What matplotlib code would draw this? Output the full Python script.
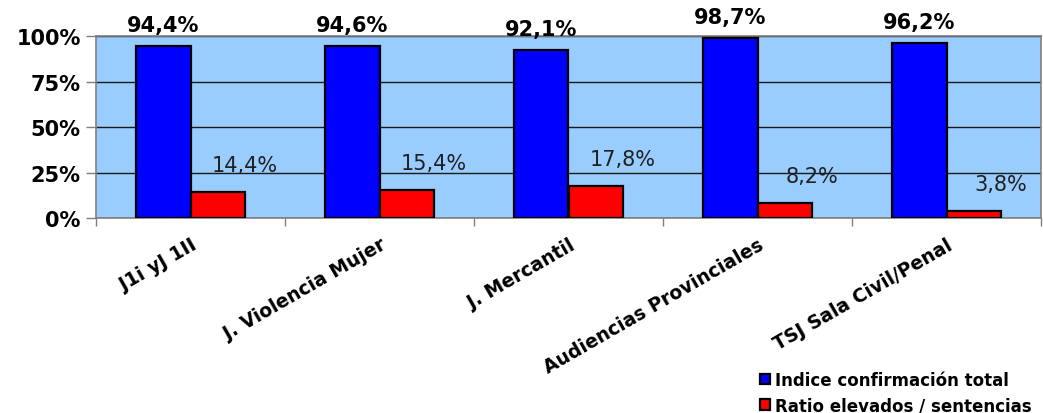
import numpy as np
import matplotlib
matplotlib.use("Agg")
import matplotlib.pyplot as plt
from matplotlib.ticker import FixedLocator, PercentFormatter

categories = ["J1i yJ 1II", "J. Violencia Mujer", "J. Mercantil",
              "Audiencias Provinciales", "TSJ Sala Civil/Penal"]
indice_confirmacion = [94.4, 94.6, 92.1, 98.7, 96.2]
ratio_elevados = [14.4, 15.4, 17.8, 8.2, 3.8]
series_names = ["Indice confirmación total", "Ratio elevados / sentencias"]
y_ticks = [0, 25, 50, 75, 100]

plt.rcParams['font.family'] = ['DejaVu Sans']

fig = plt.figure(figsize=(10.43, 4.14), dpi=100)
ax = fig.add_axes([96/1043, 1-219.3/414, (1041-96)/1043, (219.3-37)/414])
ax.set_facecolor('#99CCFF')

x = np.arange(len(categories))
w = 0.286
b1 = ax.bar(x - w/2, indice_confirmacion, w, color='#0000FF', edgecolor='black',
            linewidth=1.6, label=series_names[0], zorder=3)
b2 = ax.bar(x + w/2, ratio_elevados, w, color='#FF0000', edgecolor='black',
            linewidth=1.6, label=series_names[1], zorder=3)

for xi, v in zip(x, indice_confirmacion):
    ax.annotate(f"{v:.1f}%".replace('.', ','), (xi - w/2, v), xytext=(0, 21),
                textcoords='offset pixels', ha='center', va='center',
                fontsize=15, fontweight='bold', annotation_clip=False)
for xi, v in zip(x, ratio_elevados):
    ax.annotate(f"{v:.1f}%".replace('.', ','), (xi + w/2, v), xytext=(27, 27),
                textcoords='offset pixels', ha='center', va='center',
                fontsize=15, color='#202020', annotation_clip=False)

ax.set_xlim(-0.5, len(categories) - 0.5)
ax.set_ylim(0, 100)
ax.yaxis.set_major_locator(FixedLocator(y_ticks))
ax.yaxis.set_major_formatter(PercentFormatter(decimals=0))
ax.grid(axis='y', color='#1a1a1a', linewidth=1.0, zorder=1)
ax.tick_params(axis='y', length=7, width=1, color='#808080', pad=4, labelsize=15)
for lab in ax.get_yticklabels():
    lab.set_fontweight('bold')

ax.set_xticks(x)
ax.set_xticklabels(categories, rotation=30, ha='right', va='top',
                   rotation_mode='anchor', fontsize=13.5, fontweight='bold')
ax.tick_params(axis='x', which='major', length=0, pad=12)
ax.set_xticks(np.arange(len(categories) + 1) - 0.5, minor=True)
ax.tick_params(axis='x', which='minor', length=6, width=1, color='#808080')

for s in ax.spines.values():
    s.set_color('#808080')
    s.set_linewidth(1.2)

leg = fig.legend(handles=[b1, b2], labels=series_names, loc='lower right',
                 bbox_to_anchor=(1.003, -0.04), frameon=False,
                 prop={'weight': 'bold', 'size': 12},
                 handlelength=0.6, handleheight=0.6, handletextpad=0.3,
                 labelspacing=0.45)

fig.savefig("out.png", dpi=100)
